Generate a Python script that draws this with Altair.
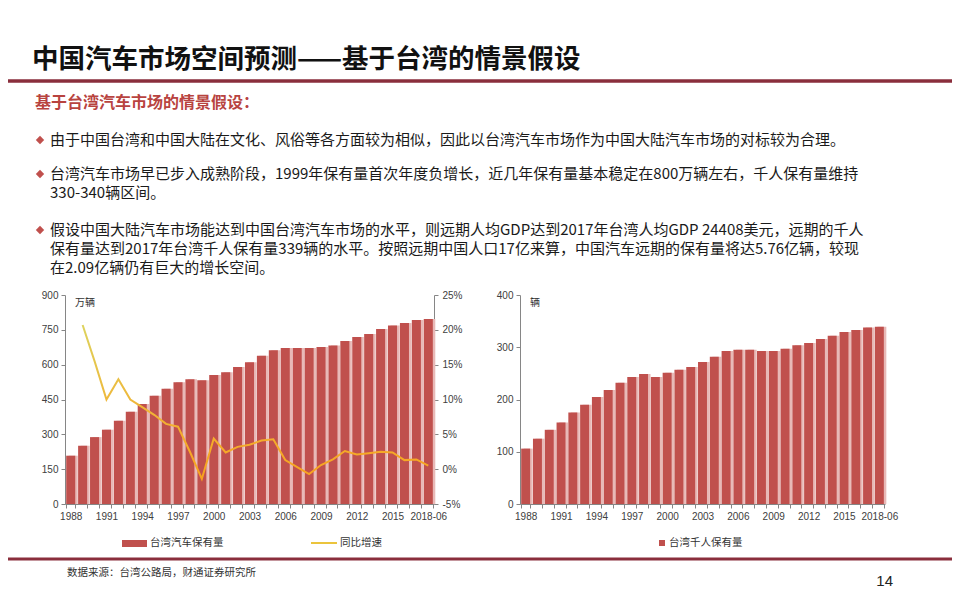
import altair as alt
import pandas as pd

# ---------------- data ----------------
YEARS = ["1988", "1989", "1990", "1991", "1992", "1993", "1994", "1995", "1996", "1997",
         "1998", "1999", "2000", "2001", "2002", "2003", "2004", "2005", "2006", "2007",
         "2008", "2009", "2010", "2011", "2012", "2013", "2014", "2015", "2016", "2017",
         "2018-06"]
VEHICLES = [208, 251, 288, 320, 358, 397, 431, 466, 496, 524,
            537, 533, 556, 567, 590, 610, 638, 662, 672, 672,
            672, 676, 683, 702, 719, 732, 754, 769, 779, 792,
            797]
GROWTH = [None, 20.7, 15.5, 10.0, 12.9, 10.0, 8.9, 7.8, 6.5, 6.1,
          2.5, -1.4, 4.4, 2.4, 3.2, 3.5, 4.1, 4.3, 1.3, 0.3,
          -0.7, 0.6, 1.4, 2.6, 2.1, 2.3, 2.5, 2.4, 1.3, 1.4,
          0.5]
PER_THOUSAND = [106, 125, 142, 156, 175, 190, 205, 218, 232, 243,
                249, 243, 251, 257, 262, 272, 282, 293, 295, 295,
                293, 293, 297, 304, 308, 316, 322, 329, 333, 338,
                339]
SHOWN_YEARS = ["1988", "1991", "1994", "1997", "2000", "2003", "2006", "2009",
               "2012", "2015", "2018-06"]
LEFT_TICKS = [0, 150, 300, 450, 600, 750, 900]
GROWTH_TICKS = [-5, 0, 5, 10, 15, 20, 25]
RIGHT_TICKS = [0, 100, 200, 300, 400]

TITLE = "中国汽车市场空间预测——基于台湾的情景假设"
SUBTITLE = "基于台湾汽车市场的情景假设："
BULLET_LINES = [
    "由于中国台湾和中国大陆在文化、风俗等各方面较为相似，因此以台湾汽车市场作为中国大陆汽车市场的对标较为合理。",
    "台湾汽车市场早已步入成熟阶段，1999年保有量首次年度负增长，近几年保有量基本稳定在800万辆左右，千人保有量维持",
    "330-340辆区间。",
    "假设中国大陆汽车市场能达到中国台湾汽车市场的水平，则远期人均GDP达到2017年台湾人均GDP  24408美元，远期的千人",
    "保有量达到2017年台湾千人保有量339辆的水平。按照远期中国人口17亿来算，中国汽车远期的保有量将达5.76亿辆，较现",
    "在2.09亿辆仍有巨大的增长空间。",
]
SOURCE = "数据来源：台湾公路局，财通证券研究所"
PAGE_NO = "14"
LEGEND_LABELS = ["台湾汽车保有量", "同比增速", "台湾千人保有量"]
UNIT_LEFT = "万辆"
UNIT_RIGHT = "辆"

df = pd.DataFrame({"year": YEARS, "vehicles": VEHICLES, "growth": GROWTH,
                   "per_thousand": PER_THOUSAND})

# ---------------- styles ----------------
CJK = "Noto Sans CJK SC"
NUM = "'Liberation Sans Narrow', 'Arial Narrow', 'Liberation Sans', sans-serif"
BAR = "#C0504D"
SHADOW = "#E8B9B7"
DARK_RED = "#8A2E3C"
AXIS_GRAY = "#868686"
LABEL = "#404040"

label_expr_x = "indexof([" + ",".join("'%s'" % s for s in SHOWN_YEARS) + "], datum.value) >= 0 ? datum.value : ''"

common_axis = dict(grid=False, title=None, domainColor=AXIS_GRAY, tickColor=AXIS_GRAY,
                   tickSize=4, labelFont=NUM, labelFontSize=10, labelColor=LABEL)


def x_enc(rng):
    axis = alt.Axis(orient="bottom", offset=-88, labelExpr=label_expr_x, tickBand="extent",
                    labelAngle=0, labelPadding=3, labelOverlap=False, **common_axis)
    return alt.X("year:N", sort=YEARS,
                 scale=alt.Scale(domain=YEARS, range=rng, paddingInner=0.24, paddingOuter=0.1),
                 axis=axis)


LEFT_RANGE = [57, 426]
RIGHT_RANGE = [512, 877]
Y_RANGE = [496, 287]

# ---------------- left chart ----------------
base_l = alt.Chart(df)
left_y_axis = alt.Axis(orient="left", offset=-57, values=LEFT_TICKS, labelPadding=3, **common_axis)
shadow_l = base_l.mark_bar(color=SHADOW, xOffset=2.5).encode(
    x=x_enc(LEFT_RANGE),
    y=alt.Y("vehicles:Q", scale=alt.Scale(domain=[0, 900], range=Y_RANGE, nice=False), axis=left_y_axis),
)
bars_l = base_l.mark_bar(color=BAR).encode(
    x=x_enc(LEFT_RANGE),
    y=alt.Y("vehicles:Q", scale=alt.Scale(domain=[0, 900], range=Y_RANGE, nice=False), axis=left_y_axis),
)
grad = alt.Gradient(gradient="linear",
                    stops=[alt.GradientStop(color="#DDD35E", offset=0),
                           alt.GradientStop(color="#F2B233", offset=0.6),
                           alt.GradientStop(color="#F7A21E", offset=1)],
                    x1=0, x2=0, y1=0, y2=1)
line_l = base_l.mark_line(stroke=grad, strokeWidth=2).encode(
    x=x_enc(LEFT_RANGE),
    y=alt.Y("growth:Q", scale=alt.Scale(domain=[-5, 25], range=Y_RANGE, nice=False),
            axis=alt.Axis(orient="right", offset=-518, values=GROWTH_TICKS,
                          labelExpr="datum.value + '%'", labelPadding=4, **common_axis)),
)
left = alt.layer(alt.layer(shadow_l, bars_l), line_l).resolve_scale(y="independent")

# ---------------- right chart ----------------
base_r = alt.Chart(df)
right_y_axis = alt.Axis(orient="left", offset=-512, values=RIGHT_TICKS, labelPadding=3, **common_axis)
shadow_r = base_r.mark_bar(color=SHADOW, xOffset=2.5).encode(
    x=x_enc(RIGHT_RANGE),
    y=alt.Y("per_thousand:Q", scale=alt.Scale(domain=[0, 400], range=Y_RANGE, nice=False), axis=right_y_axis),
)
bars_r = base_r.mark_bar(color=BAR).encode(
    x=x_enc(RIGHT_RANGE),
    y=alt.Y("per_thousand:Q", scale=alt.Scale(domain=[0, 400], range=Y_RANGE, nice=False), axis=right_y_axis),
)
right = alt.layer(shadow_r, bars_r)


# ---------------- slide text & decorations ----------------
def text_layer(txt, x, y, size, color="#1a1a1a", weight="normal", font=CJK, align="left"):
    return alt.Chart(pd.DataFrame({"t": [txt]})).mark_text(
        font=font, fontSize=size, fontWeight=weight, color=color, align=align, baseline="middle"
    ).encode(text="t:N", x=alt.value(x), y=alt.value(y))


def hrule(y, width, color):
    return alt.Chart(pd.DataFrame({"a": [0]})).mark_rule(color=color, strokeWidth=width).encode(
        x=alt.value(0), x2=alt.value(944), y=alt.value(y))


layers = [
    text_layer(TITLE, 24, 52, 26.5, "#111111", "bold"),
    hrule(73, 3.5, DARK_RED),
    text_layer(SUBTITLE, 27, 95, 16, "#B8433F", "bold"),
]

bullet_ys = [132, 166, 222]
for by in bullet_ys:
    layers.append(
        alt.Chart(pd.DataFrame({"a": [0]})).mark_point(shape="diamond", filled=True, size=70,
                                                       color=BAR, opacity=1).encode(
            x=alt.value(32), y=alt.value(by)))

line_ys = [132, 166, 185, 222, 241, 260]
for txt, ly in zip(BULLET_LINES, line_ys):
    layers.append(text_layer(txt, 42, ly, 15, "#1a1a1a"))

layers += [
    text_layer(UNIT_LEFT, 67, 295, 10, "#333333"),
    text_layer(UNIT_RIGHT, 522, 295, 10, "#333333"),
    # legends
    alt.Chart(pd.DataFrame({"a": [0]})).mark_rect(color=BAR).encode(
        x=alt.value(114), x2=alt.value(139), y=alt.value(532), y2=alt.value(539)),
    text_layer(LEGEND_LABELS[0], 142, 535, 10.5, "#333333"),
    alt.Chart(pd.DataFrame({"a": [0]})).mark_rule(color="#EBC43C", strokeWidth=2).encode(
        x=alt.value(303), x2=alt.value(329), y=alt.value(535)),
    text_layer(LEGEND_LABELS[1], 332, 535, 10.5, "#333333"),
    alt.Chart(pd.DataFrame({"a": [0]})).mark_rect(color=BAR).encode(
        x=alt.value(651), x2=alt.value(657), y=alt.value(532), y2=alt.value(538)),
    text_layer(LEGEND_LABELS[2], 661, 535, 10.5, "#333333"),
    hrule(551, 3, DARK_RED),
    text_layer(SOURCE, 59, 565, 10.5, "#333333"),
    text_layer(PAGE_NO, 885, 573, 15, "#222222", font="'Liberation Sans', sans-serif", align="right"),
]

chart = alt.layer(left, right, *layers).resolve_scale(
    x="independent", y="independent"
).properties(
    width=944, height=584, padding=0, autosize=alt.AutoSizeParams(type="none")
).configure_view(stroke=None)

chart.save("out.html", embed_options={"renderer": "svg", "actions": False})
